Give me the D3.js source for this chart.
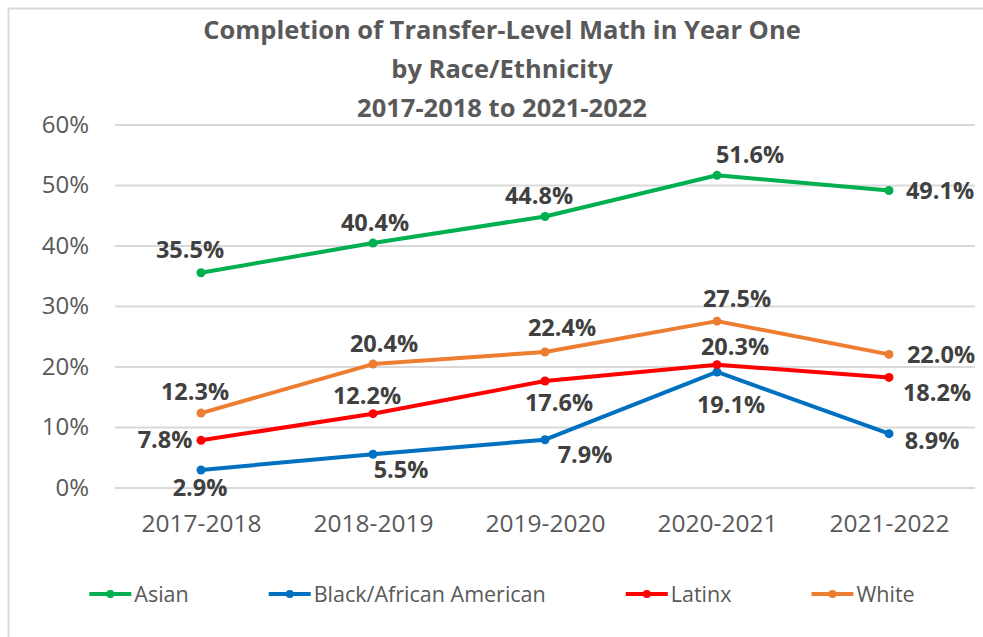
<!DOCTYPE html>
<html>
<head>
<meta charset="utf-8">
<script src="https://cdn.jsdelivr.net/npm/d3@7"></script>
<style>
  body { margin: 0; background: #fff; }
  svg { display: block; font-family: "Open Sans", sans-serif; }
</style>
</head>
<body>
<script>
// data
const years = ["2017-2018", "2018-2019", "2019-2020", "2020-2021", "2021-2022"];
const groups = ["Asian", "Black/African American", "Latinx", "White"];
const asian = [35.5, 40.4, 44.8, 51.6, 49.1];
const black = [2.9, 5.5, 7.9, 19.1, 8.9];
const latinx = [7.8, 12.2, 17.6, 20.3, 18.2];
const white = [12.3, 20.4, 22.4, 27.5, 22.0];
const yTicks = [0, 10, 20, 30, 40, 50, 60];
const titleLines = ["Completion of Transfer-Level Math in Year One", "by Race/Ethnicity", "2017-2018 to 2021-2022"];

// layout: colours and label offsets (dx,dy from the point), excel style
const colors = ["#00B050", "#0070C0", "#FF0000", "#ED7D31"];
const labelOffsets = [
  [[-11, -15], [2, -12], [-6, -12], [33, -12], [51, 9]],
  [[-1, 26], [28, 24], [40, 23], [14, 41], [43, 15]],
  [[-36, 8], [-6, -10], [14, 30], [18, -10], [48, 24]],
  [[-6, -13], [11, -12], [17, -16], [20, -14], [52, 9]]
];

const W = 983, H = 637;
const plot = { left: 115, right: 975, top: 124.5, bottom: 487.5 };

const svg = d3.select("body").append("svg").attr("width", W).attr("height", H);

// chart border
svg.append("rect")
  .attr("x", 8.5).attr("y", 8.5)
  .attr("width", W).attr("height", H)
  .style("fill", "none").style("stroke", "#d9d9d9").style("stroke-width", 2);

// title
svg.append("g").selectAll("text")
  .data(titleLines)
  .enter().append("text")
  .attr("x", 502)
  .attr("y", (d, i) => 39 + i * 39)
  .attr("text-anchor", "middle")
  .style("font-size", "25.5px")
  .style("font-weight", "bold")
  .style("fill", "#595959")
  .text(d => d);

const xScale = d3.scalePoint().domain(years).range([plot.left, plot.right]).padding(0.5);
const yScale = d3.scaleLinear().domain([0, 60]).range([plot.bottom, plot.top]);

// gridlines + y labels
const yAxis = d3.axisLeft(yScale)
  .tickValues(yTicks)
  .tickSize(-(plot.right - plot.left))
  .tickPadding(26)
  .tickFormat(d => d + "%");
const gy = svg.append("g").attr("transform", `translate(${plot.left},0)`).call(yAxis);
gy.select(".domain").remove();
gy.selectAll("line").style("stroke", "#d9d9d9").style("stroke-width", 1.8);
gy.selectAll("text")
  .style("font-family", "Open Sans")
  .style("font-size", "24px")
  .style("fill", "#595959");

// x labels
const xAxis = d3.axisBottom(xScale).tickSize(0).tickPadding(0);
const gx = svg.append("g").attr("transform", `translate(0,${plot.bottom})`).call(xAxis);
gx.select(".domain").remove();
gx.selectAll("text")
  .attr("dy", null)
  .attr("y", 44)
  .style("font-family", "Open Sans")
  .style("font-size", "24.5px")
  .style("fill", "#595959");

// series
const series = [asian, black, latinx, white];
const line = d3.line()
  .x((d, i) => xScale(years[i]))
  .y(d => yScale(d));

series.forEach((vals, s) => {
  const g = svg.append("g");
  g.append("path")
    .datum(vals)
    .attr("d", line)
    .style("fill", "none")
    .style("stroke", colors[s])
    .style("stroke-width", 4)
    .style("stroke-linejoin", "round");
  g.selectAll("circle")
    .data(vals)
    .enter().append("circle")
    .attr("cx", (d, i) => xScale(years[i]))
    .attr("cy", d => yScale(d))
    .attr("r", 4.5)
    .style("fill", colors[s]);
});

// data labels (drawn after all lines so they sit on top)
series.forEach((vals, s) => {
  svg.append("g").selectAll("text")
    .data(vals)
    .enter().append("text")
    .attr("x", (d, i) => xScale(years[i]) + labelOffsets[s][i][0])
    .attr("y", (d, i) => yScale(d) + labelOffsets[s][i][1])
    .attr("text-anchor", "middle")
    .style("font-size", "23.5px")
    .style("font-weight", "bold")
    .style("fill", "#404040")
    .text(d => d.toFixed(1) + "%");
});

// legend, entries packed by text width and centred
const legend = svg.append("g");
const legY = 594, swatch = 42, textGap = 3, entryGap = 80;
let lx = 0;
groups.forEach((name, i) => {
  const item = legend.append("g");
  item.append("line")
    .attr("x1", 0).attr("x2", swatch)
    .attr("y1", legY).attr("y2", legY)
    .style("stroke", colors[i]).style("stroke-width", 4);
  item.append("circle")
    .attr("cx", swatch / 2).attr("cy", legY).attr("r", 4)
    .style("fill", colors[i]);
  const t = item.append("text")
    .attr("x", swatch + textGap)
    .attr("y", legY + 8)
    .style("font-size", "21.5px")
    .style("fill", "#595959")
    .text(name);
  const w = swatch + textGap + t.node().getComputedTextLength();
  item.attr("transform", `translate(${lx},0)`);
  lx += w + entryGap;
});
const total = lx - entryGap;
legend.attr("transform", `translate(${502 - total / 2},0)`);
</script>
</body>
</html>
